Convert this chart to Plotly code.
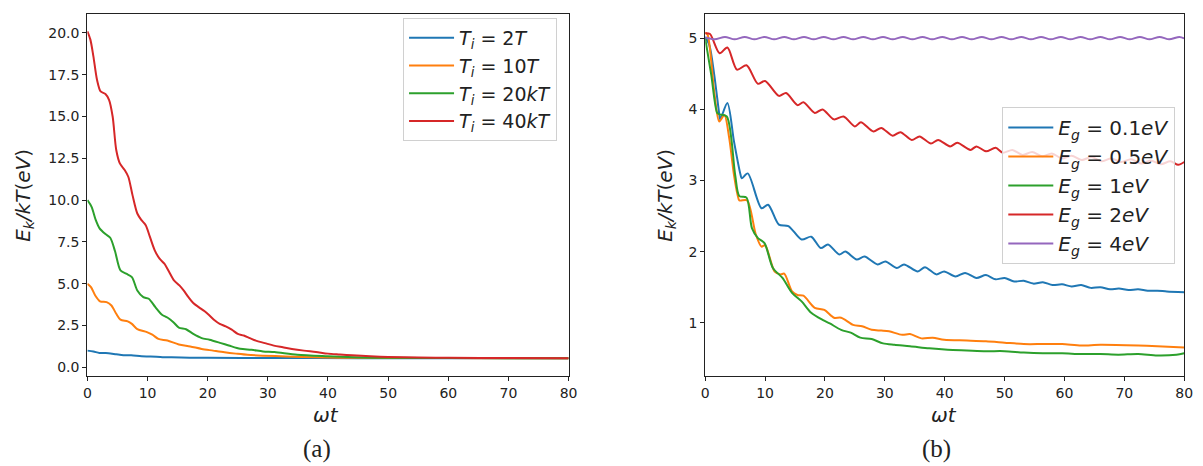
import plotly.graph_objects as go

# ---------------- Panel (a) data ----------------
t_2T = [0, 1.0, 2.0, 3.5, 4.8, 6.0, 7.3, 9.0, 10.5, 12.5, 14.0, 17.0, 20.0, 30.0, 45.0, 60.0, 80.0]
e_2T = [1.0, 0.95, 0.86, 0.85, 0.78, 0.72, 0.72, 0.66, 0.65, 0.61, 0.60, 0.58, 0.57, 0.56, 0.55, 0.55, 0.55]

t_10T = [0, 0.6, 1.3, 2.1, 3.2, 4.0, 4.8, 5.5, 6.7, 7.4, 8.3, 9.9, 10.8, 11.8, 13.3, 15.2, 17.1, 19.0,
         20.9, 22.8, 24.7, 26.6, 29.2, 33.0, 38.0, 45.0, 55.0, 65.0, 80.0]
e_10T = [5.0, 4.8, 4.3, 3.95, 3.9, 3.7, 3.2, 2.85, 2.75, 2.6, 2.29, 2.11, 1.95, 1.7, 1.6, 1.37, 1.25, 1.1,
         1.0, 0.9, 0.82, 0.75, 0.7, 0.65, 0.6, 0.57, 0.56, 0.55, 0.55]

t_20kT = [0, 0.7, 1.4, 2.0, 3.0, 3.8, 4.6, 5.5, 6.45, 7.4, 8.3, 9.3, 10.2, 11.3, 12.4, 13.3, 14.3, 15.2,
          16.4, 17.6, 19.0, 20.3, 22.2, 23.5, 25.4, 27.3, 29.2, 31.1, 34.9, 39.9, 44.4, 50.0, 60.0, 70.0, 80.0]
e_20kT = [10.0, 9.6, 8.8, 8.33, 7.97, 7.75, 6.94, 5.8, 5.6, 5.4, 4.6, 4.2, 4.1, 3.6, 3.15, 2.98, 2.7, 2.38,
          2.28, 2.0, 1.75, 1.65, 1.45, 1.31, 1.11, 1.05, 0.95, 0.91, 0.75, 0.66, 0.6, 0.57, 0.56, 0.55, 0.55]

t_40kT = [0, 0.5, 1.0, 1.6, 2.2, 3.0, 3.6, 4.2, 4.8, 5.4, 6.2, 6.8, 7.5, 8.3, 9.0, 9.7, 10.4, 11.2, 12.0,
          12.8, 13.6, 14.4, 15.3, 16.0, 16.8, 17.6, 18.5, 19.5, 20.3, 21.2, 22.0, 23.0, 24.0, 25.0, 26.0,
          27.0, 28.0, 29.5, 31.0, 32.5, 34.0, 36.0, 38.0, 40.0, 42.0, 44.0, 47.0, 50.0, 55.0, 60.0, 70.0, 80.0]
e_40kT = [20.1, 19.6, 18.6, 17.2, 16.5, 16.35, 16.0, 15.0, 13.0, 12.2, 11.8, 11.4, 10.3, 9.2, 8.8, 8.5,
          7.8, 7.0, 6.5, 6.2, 5.7, 5.2, 4.9, 4.6, 4.2, 3.85, 3.6, 3.35, 3.1, 2.8, 2.6, 2.45, 2.25, 2.0, 1.9,
          1.75, 1.6, 1.45, 1.3, 1.2, 1.1, 1.0, 0.92, 0.82, 0.77, 0.72, 0.66, 0.62, 0.59, 0.57, 0.56, 0.55]

# ---------------- Panel (b) data ----------------
t_01 = [0, 0.7, 1.5, 2.35, 2.5, 3.7, 4.8, 5.9, 6.1, 7.1, 9.4, 10.5, 12.3, 13.9, 16.1, 17.7, 19.3, 20.5,
        22.4, 23.4, 25.3, 26.6, 28.8, 30.1, 32.0, 33.2, 35.5, 36.7, 38.6, 39.9, 41.8, 43.4, 45.3, 46.9,
        48.5, 50.0, 51.6, 53.2, 54.8, 56.4, 58.0, 59.6, 61.2, 62.8, 64.4, 66.0, 67.6, 69.1, 70.7, 72.3,
        73.9, 75.5, 77.1, 80.0]
e_01 = [5.02, 4.9, 4.49, 3.93, 3.86, 4.09, 3.55, 3.08, 3.03, 3.1, 2.61, 2.66, 2.38, 2.36, 2.17, 2.21, 2.05,
        2.10, 1.96, 2.0, 1.89, 1.93, 1.82, 1.86, 1.77, 1.82, 1.72, 1.78, 1.68, 1.72, 1.65, 1.70, 1.63, 1.67,
        1.61, 1.63, 1.58, 1.59, 1.55, 1.57, 1.53, 1.54, 1.51, 1.53, 1.49, 1.50, 1.47, 1.48, 1.46, 1.47,
        1.45, 1.45, 1.44, 1.43]

t_05 = [0, 0.4, 1.5, 2.35, 3.2, 4.0, 4.8, 5.4, 5.7, 7.0, 8.45, 9.4, 10.0, 11.6, 12.6, 13.2, 14.5, 15.4,
        16.4, 18.3, 19.9, 21.5, 22.7, 24.7, 26.2, 27.8, 29.4, 30.7, 32.9, 34.2, 36.1, 38.0, 39.9, 43.7,
        46.9, 50.0, 53.2, 56.4, 59.6, 62.8, 66.0, 72.3, 75.5, 80.0]
e_05 = [5.08, 5.05, 4.25, 3.83, 3.92, 3.6, 3.08, 2.8, 2.72, 2.72, 2.24, 2.07, 2.09, 1.72, 1.68, 1.69, 1.44,
        1.39, 1.38, 1.21, 1.18, 1.07, 1.07, 0.97, 0.95, 0.9, 0.89, 0.88, 0.83, 0.84, 0.78, 0.79, 0.76, 0.75,
        0.74, 0.72, 0.70, 0.70, 0.70, 0.68, 0.69, 0.68, 0.67, 0.65]

t_1 = [0, 1.0, 2.0, 2.4, 3.6, 5.0, 5.7, 6.9, 7.8, 8.8, 9.9, 11.3, 12.9, 14.5, 16.1, 17.7, 19.6, 20.8,
       22.7, 24.3, 25.9, 27.8, 29.7, 31.6, 34.2, 37.4, 40.5, 43.7, 46.9, 50.0, 53.2, 56.4, 59.6, 62.8,
       66.0, 69.0, 72.3, 75.5, 78.7, 80.0]
e_1 = [5.0, 4.49, 3.95, 3.93, 3.9, 3.08, 2.78, 2.76, 2.33, 2.19, 2.12, 1.77, 1.63, 1.42, 1.3, 1.14, 1.04,
       0.99, 0.9, 0.86, 0.79, 0.77, 0.71, 0.69, 0.67, 0.64, 0.62, 0.61, 0.60, 0.60, 0.58, 0.57, 0.57, 0.56,
       0.56, 0.55, 0.56, 0.54, 0.55, 0.57]

t_2 = [0, 0.8, 2.4, 3.7, 5.3, 6.9, 8.8, 10.0, 12.3, 13.5, 15.4, 16.4, 18.3, 19.6, 21.5, 23.1, 25.0, 26.0,
       28.1, 29.4, 31.3, 32.6, 34.5, 35.8, 37.7, 38.9, 40.9, 42.1, 44.3, 45.3, 46.9, 48.5, 49.7, 51.3,
       53.0, 54.6, 56.3, 57.9, 59.6, 61.2, 62.9, 64.5, 66.2, 67.8, 69.5, 71.1, 72.8, 74.4, 76.1, 77.7,
       79.0, 80.0]
e_2 = [5.07, 5.06, 4.79, 4.87, 4.56, 4.62, 4.36, 4.40, 4.19, 4.23, 4.06, 4.1, 3.95, 4.0, 3.86, 3.9, 3.76,
       3.82, 3.69, 3.74, 3.63, 3.68, 3.57, 3.62, 3.52, 3.57, 3.48, 3.53, 3.43, 3.48, 3.41, 3.46, 3.39, 3.43,
       3.36, 3.40, 3.34, 3.38, 3.31, 3.35, 3.29, 3.33, 3.27, 3.31, 3.26, 3.30, 3.24, 3.28, 3.23, 3.27,
       3.22, 3.26]

t_4 = [0, 1.6, 3.3, 4.9, 6.6, 8.2, 9.9, 11.5, 13.2, 14.8, 16.5, 18.1, 19.8, 21.4, 23.1, 24.7, 26.4, 28.0,
       29.7, 31.3, 33.0, 34.6, 36.3, 37.9, 39.6, 41.2, 42.9, 44.5, 46.2, 47.8, 49.5, 51.1, 52.8, 54.4,
       56.1, 57.7, 59.4, 61.0, 62.7, 64.3, 66.0, 67.6, 69.3, 70.9, 72.6, 74.2, 75.9, 77.5, 79.2, 80.0]
e_4 = [5.01, 4.985, 5.02, 4.985, 5.02, 4.985, 5.02, 4.985, 5.02, 4.985, 5.02, 4.985, 5.02, 4.985, 5.02,
       4.985, 5.02, 4.985, 5.02, 4.985, 5.02, 4.985, 5.02, 4.985, 5.02, 4.985, 5.02, 4.985, 5.02, 4.985,
       5.02, 4.985, 5.02, 4.985, 5.02, 4.985, 5.02, 4.985, 5.02, 4.985, 5.02, 4.985, 5.02, 4.985, 5.02,
       4.985, 5.02, 4.985, 5.02, 5.0]

names_a = ["<i>T</i><sub><i>i</i></sub> = 2<i>T</i>", "<i>T</i><sub><i>i</i></sub> = 10<i>T</i>",
           "<i>T</i><sub><i>i</i></sub> = 20<i>kT</i>", "<i>T</i><sub><i>i</i></sub> = 40<i>kT</i>"]
names_b = ["<i>E</i><sub><i>g</i></sub> = 0.1<i>eV</i>", "<i>E</i><sub><i>g</i></sub> = 0.5<i>eV</i>",
           "<i>E</i><sub><i>g</i></sub> = 1<i>eV</i>", "<i>E</i><sub><i>g</i></sub> = 2<i>eV</i>",
           "<i>E</i><sub><i>g</i></sub> = 4<i>eV</i>"]
colors = ["#1f77b4", "#ff7f0e", "#2ca02c", "#d62728", "#9467bd"]

fig = go.Figure()
series_a = [(t_2T, e_2T), (t_10T, e_10T), (t_20kT, e_20kT), (t_40kT, e_40kT)]
for i, (tx, ey) in enumerate(series_a):
    fig.add_trace(go.Scatter(x=tx, y=ey, mode="lines", name=names_a[i],
                             line=dict(color=colors[i], width=2, shape="spline", smoothing=0.8),
                             xaxis="x", yaxis="y", legend="legend"))
series_b = [(t_01, e_01), (t_05, e_05), (t_1, e_1), (t_2, e_2), (t_4, e_4)]
for i, (tx, ey) in enumerate(series_b):
    fig.add_trace(go.Scatter(x=tx, y=ey, mode="lines", name=names_b[i],
                             line=dict(color=colors[i], width=2, shape="spline", smoothing=0.8),
                             xaxis="x2", yaxis="y2", legend="legend2"))

W, H = 1203, 466
tickfont = dict(family="DejaVu Sans", size=14, color="#222")
axis_common = dict(showline=True, linecolor="#222", linewidth=1.2, mirror=True, ticks="outside",
                   ticklen=4, tickcolor="#222", showgrid=False, zeroline=False, tickfont=tickfont)
ydom = [(H - 367.7) / H, (H - 5.7) / H]

fig.update_layout(
    width=W, height=H, margin=dict(l=0, r=0, t=0, b=0),
    paper_bgcolor="white", plot_bgcolor="white",
    xaxis=dict(domain=[76.2 / W, 562.7 / W], range=[0, 80], dtick=10, anchor="y", **axis_common),
    yaxis=dict(domain=ydom, range=[-0.5, 21.15], dtick=2.5, tickformat=".1f", anchor="x", **axis_common),
    xaxis2=dict(domain=[700.8 / W, 1185 / W], range=[0, 80], dtick=10, anchor="y2", **axis_common),
    yaxis2=dict(domain=ydom, range=[0.255, 5.346], dtick=1, anchor="x2", **axis_common),
    legend=dict(x=551 / W, y=(H - 10) / H, xanchor="right", yanchor="top", itemwidth=45,
                bgcolor="rgba(255,255,255,0.8)", bordercolor="#d0d0d0", borderwidth=1,
                font=dict(family="DejaVu Sans", size=19, color="#222")),
    legend2=dict(x=1176 / W, y=(H - 99) / H, xanchor="right", yanchor="top", itemwidth=45,
                 bgcolor="rgba(255,255,255,0.8)", bordercolor="#d0d0d0", borderwidth=1,
                 font=dict(family="DejaVu Sans", size=20, color="#222")),
    showlegend=True,
)

ann_font = dict(family="DejaVu Sans", size=20, color="#222")
ylabel = "<i>E</i><sub><i>k</i></sub><i>/kT</i>(<i>eV</i>)"
annotations = [
    dict(text="<i>ωt</i>", x=317 / W, y=(H - 407) / H, xref="paper", yref="paper",
         showarrow=False, font=ann_font, xanchor="center", yanchor="middle"),
    dict(text="<i>ωt</i>", x=942 / W, y=(H - 407) / H, xref="paper", yref="paper",
         showarrow=False, font=ann_font, xanchor="center", yanchor="middle"),
    dict(text=ylabel, x=12 / W, y=(H - 187) / H, xref="paper", yref="paper", textangle=-90,
         showarrow=False, font=ann_font, xanchor="center", yanchor="middle"),
    dict(text=ylabel, x=661 / W, y=(H - 187) / H, xref="paper", yref="paper", textangle=-90,
         showarrow=False, font=ann_font, xanchor="center", yanchor="middle"),
    dict(text="(a)", x=308 / W, y=(H - 441) / H, xref="paper", yref="paper",
         showarrow=False, font=dict(family="Liberation Serif", size=25, color="#222"),
         xanchor="center", yanchor="middle"),
    dict(text="(b)", x=935 / W, y=(H - 441) / H, xref="paper", yref="paper",
         showarrow=False, font=dict(family="Liberation Serif", size=25, color="#222"),
         xanchor="center", yanchor="middle"),
]
fig.update_layout(annotations=annotations)

fig.write_html("out.html")
